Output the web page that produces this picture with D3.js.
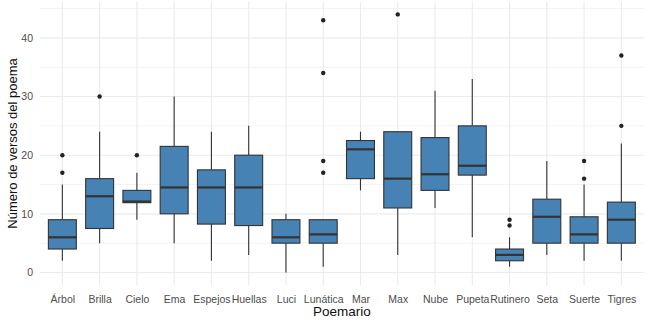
<!DOCTYPE html>
<html><head><meta charset="utf-8">
<script src="https://cdn.jsdelivr.net/npm/d3@7"></script>
<style>body{margin:0;background:#fff}svg{display:block}</style>
</head><body>
<svg id="c" width="650" height="323"></svg>
<script>
const categories = ["Árbol","Brilla","Cielo","Ema","Espejos","Huellas","Luci","Lunática","Mar","Max","Nube","Pupeta","Rutinero","Seta","Suerte","Tigres"];
const whiskerLow  = [2, 5, 9, 5, 2, 3, 0, 1, 14, 3, 11, 6, 1, 3, 2, 2];
const q1          = [4, 7.5, 11.9, 10, 8.25, 8, 5, 5, 16, 11, 14, 16.6, 2, 5, 5, 5];
const median      = [6, 13, 12.1, 14.5, 14.5, 14.5, 6, 6.5, 21, 16, 16.75, 18.2, 3, 9.5, 6.5, 9];
const q3          = [9, 16, 14, 21.5, 17.5, 20, 9, 9, 22.5, 24, 23, 25, 4, 12.5, 9.5, 12];
const whiskerHigh = [15, 24, 17, 30, 24, 25, 10, 9, 24, 24, 31, 33, 6, 19, 15, 22];
const outliers    = [[17,20],[30],[20],[],[],[],[],[17,19,34,43],[],[44],[],[],[8,9],[],[16,19],[25,37]];
const majorTicks = [0,10,20,30,40];
const minorTicks = [5,15,25,35,45];

const svg = d3.select("#c");
const pL = 40, pR = 643.7, pT = 1.5, pB = 285.4;
const step = (pR-pL)/(categories.length - 1 + 1.2);
const x = d3.scalePoint().domain(categories).range([pL+0.6*step, pR-0.6*step]);
const y = d3.scaleLinear().domain([-2.2, 46.2]).range([pB, pT]);
const bw = 0.75*step;

const g = svg.append("g");
// grid
g.selectAll(".ming").data(minorTicks).join("line")
  .attr("x1",pL).attr("x2",pR).attr("y1",d=>y(d)).attr("y2",d=>y(d))
  .attr("stroke","#ebebeb").attr("stroke-width",0.6);
g.selectAll(".majg").data(majorTicks).join("line")
  .attr("x1",pL).attr("x2",pR).attr("y1",d=>y(d)).attr("y2",d=>y(d))
  .attr("stroke","#ebebeb").attr("stroke-width",1.1);
g.selectAll(".vg").data(categories).join("line")
  .attr("x1",d=>x(d)).attr("x2",d=>x(d)).attr("y1",pT).attr("y2",pB)
  .attr("stroke","#ebebeb").attr("stroke-width",1.1);

const data = categories.map((c,i)=>({c, lo:whiskerLow[i], q1:q1[i], md:median[i], q3:q3[i], hi:whiskerHigh[i], out:outliers[i]}));
const bx = g.selectAll(".box").data(data).join("g");
bx.append("line").attr("x1",d=>x(d.c)).attr("x2",d=>x(d.c)).attr("y1",d=>y(d.hi)).attr("y2",d=>y(d.q3))
  .attr("stroke","#333").attr("stroke-width",1.1);
bx.append("line").attr("x1",d=>x(d.c)).attr("x2",d=>x(d.c)).attr("y1",d=>y(d.q1)).attr("y2",d=>y(d.lo))
  .attr("stroke","#333").attr("stroke-width",1.1);
bx.append("rect").attr("x",d=>x(d.c)-bw/2).attr("width",bw)
  .attr("y",d=>y(d.q3)).attr("height",d=>y(d.q1)-y(d.q3))
  .attr("fill","#4682B4").attr("stroke","#333").attr("stroke-width",1.1);
bx.append("line").attr("x1",d=>x(d.c)-bw/2).attr("x2",d=>x(d.c)+bw/2).attr("y1",d=>y(d.md)).attr("y2",d=>y(d.md))
  .attr("stroke","#333").attr("stroke-width",2.2);
bx.selectAll("circle").data(d=>d.out.map(v=>({c:d.c,v}))).join("circle")
  .attr("cx",d=>x(d.c)).attr("cy",d=>y(d.v)).attr("r",2.2).attr("fill","#222");

// axes
const font = "Liberation Sans, Arial, sans-serif";
const xa = svg.append("g").attr("transform",`translate(0,${pB})`)
  .call(d3.axisBottom(x).tickSize(0).tickPadding(10));
xa.select(".domain").remove();
xa.selectAll("text").attr("font-family",font).attr("font-size",10.5).attr("fill","#4d4d4d");
const ya = svg.append("g").attr("transform",`translate(${pL},0)`)
  .call(d3.axisLeft(y).tickValues(majorTicks).tickSize(0).tickPadding(7));
ya.select(".domain").remove();
ya.selectAll("text").attr("font-family",font).attr("font-size",10.5).attr("fill","#4d4d4d");

svg.append("text").attr("x",(pL+pR)/2).attr("y",316).attr("text-anchor","middle")
  .attr("font-family",font).attr("font-size",13.5).attr("fill","#111").text("Poemario");
svg.append("text").attr("transform",`translate(17,${(pT+pB)/2}) rotate(-90)`).attr("text-anchor","middle")
  .attr("font-family",font).attr("font-size",13).attr("fill","#111").text("Número de versos del poema");
</script>
</body></html>
